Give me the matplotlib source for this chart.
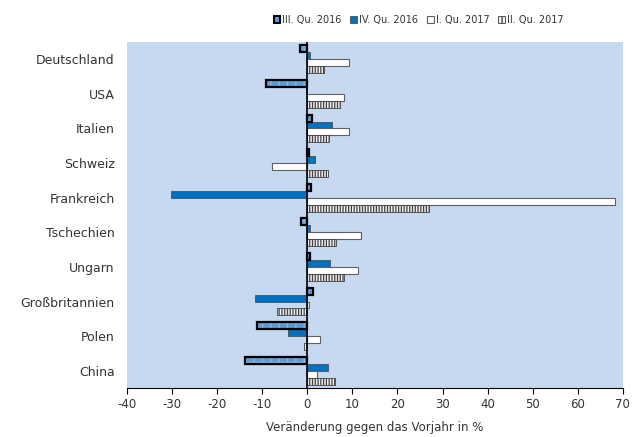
import matplotlib.pyplot as plt
import numpy as np
from matplotlib.patches import Patch

plt.rcParams['font.family'] = ['DejaVu Sans']
plt.rcParams['hatch.linewidth'] = 0.9
plt.rcParams['axes.unicode_minus'] = False

countries = ['Deutschland', 'USA', 'Italien', 'Schweiz', 'Frankreich',
             'Tschechien', 'Ungarn', 'Großbritannien', 'Polen', 'China']
series = ['III. Qu. 2016', 'IV. Qu. 2016', 'I. Qu. 2017', 'II. Qu. 2017']

q3_2016 = [-1.6, -9.2, 1.0, 0.3, 0.75, -1.4, 0.6, 1.3, -11.2, -13.8]
q4_2016 = [0.7, -0.2, 5.4, 1.8, -30.2, 0.6, 5.1, -11.6, -4.4, 4.6]
q1_2017 = [9.2, 8.2, 9.2, -7.9, 68.3, 12.0, 11.2, 0.4, 2.7, 2.2]
q2_2017 = [3.6, 7.2, 4.7, 4.6, 27.1, 6.3, 8.1, -6.7, -0.8, 6.2]

fig = plt.figure(figsize=(6.42, 4.37), dpi=100)
ax = fig.add_axes([0.198, 0.112, 0.772, 0.792])
ax.set_facecolor('#c6d9f0')

y = np.arange(len(countries))
h = 0.2

# III. Qu. 2016: light blue, grid hatch, thick black edge
ax.barh(y - 1.5 * h, q3_2016, height=h, color='#5b9bd5', edgecolor='#8fb8e0',
        hatch='++', linewidth=0, zorder=2)
ax.barh(y - 1.5 * h, q3_2016, height=h, fill=False, edgecolor='black',
        linewidth=1.6, zorder=3)
# IV. Qu. 2016
ax.barh(y - 0.5 * h, q4_2016, height=h, color='#0070c0', edgecolor='#505050',
        linewidth=0.6, zorder=2)
# I. Qu. 2017
ax.barh(y + 0.5 * h, q1_2017, height=h, color='white', edgecolor='#606060',
        linewidth=0.8, zorder=2)
# II. Qu. 2017: dense vertical stripes
ax.barh(y + 1.5 * h, q2_2017, height=h, color='#f0f0f0', edgecolor='#404040',
        hatch='||||||', linewidth=0.6, zorder=2)

ax.axvline(0, color='black', linewidth=1.2, zorder=4)

ax.set_xlim(-40, 70)
ax.set_ylim(len(countries) - 0.5, -0.5)
ax.set_xticks(range(-40, 71, 10))
ax.set_yticks(y)
ax.set_yticklabels(countries, fontsize=9, color='#333333')
ax.tick_params(axis='y', length=0, pad=9)
ax.tick_params(axis='x', direction='out', length=4, labelsize=8.5,
               colors='black', labelcolor='#333333')
for s in ['top', 'right', 'left']:
    ax.spines[s].set_visible(False)
ax.spines['bottom'].set_color('black')
ax.set_xlabel('Veränderung gegen das Vorjahr in %', fontsize=8.5,
              color='#333333', labelpad=7)

handles = [
    Patch(facecolor='#5b9bd5', edgecolor='black', linewidth=1.4),
    Patch(facecolor='#0070c0', edgecolor='#505050', linewidth=0.6),
    Patch(facecolor='white', edgecolor='#606060', linewidth=0.8),
    Patch(facecolor='#f0f0f0', edgecolor='#404040', hatch='||||', linewidth=0.6),
]
fig.legend(handles, series, loc='upper center', bbox_to_anchor=(0.652, 0.985),
           ncol=4, frameon=False, fontsize=7, handlelength=0.7,
           handleheight=0.7, handletextpad=0.2, columnspacing=0.9,
           labelcolor='#333333')

fig.savefig('out.png', dpi=100)
